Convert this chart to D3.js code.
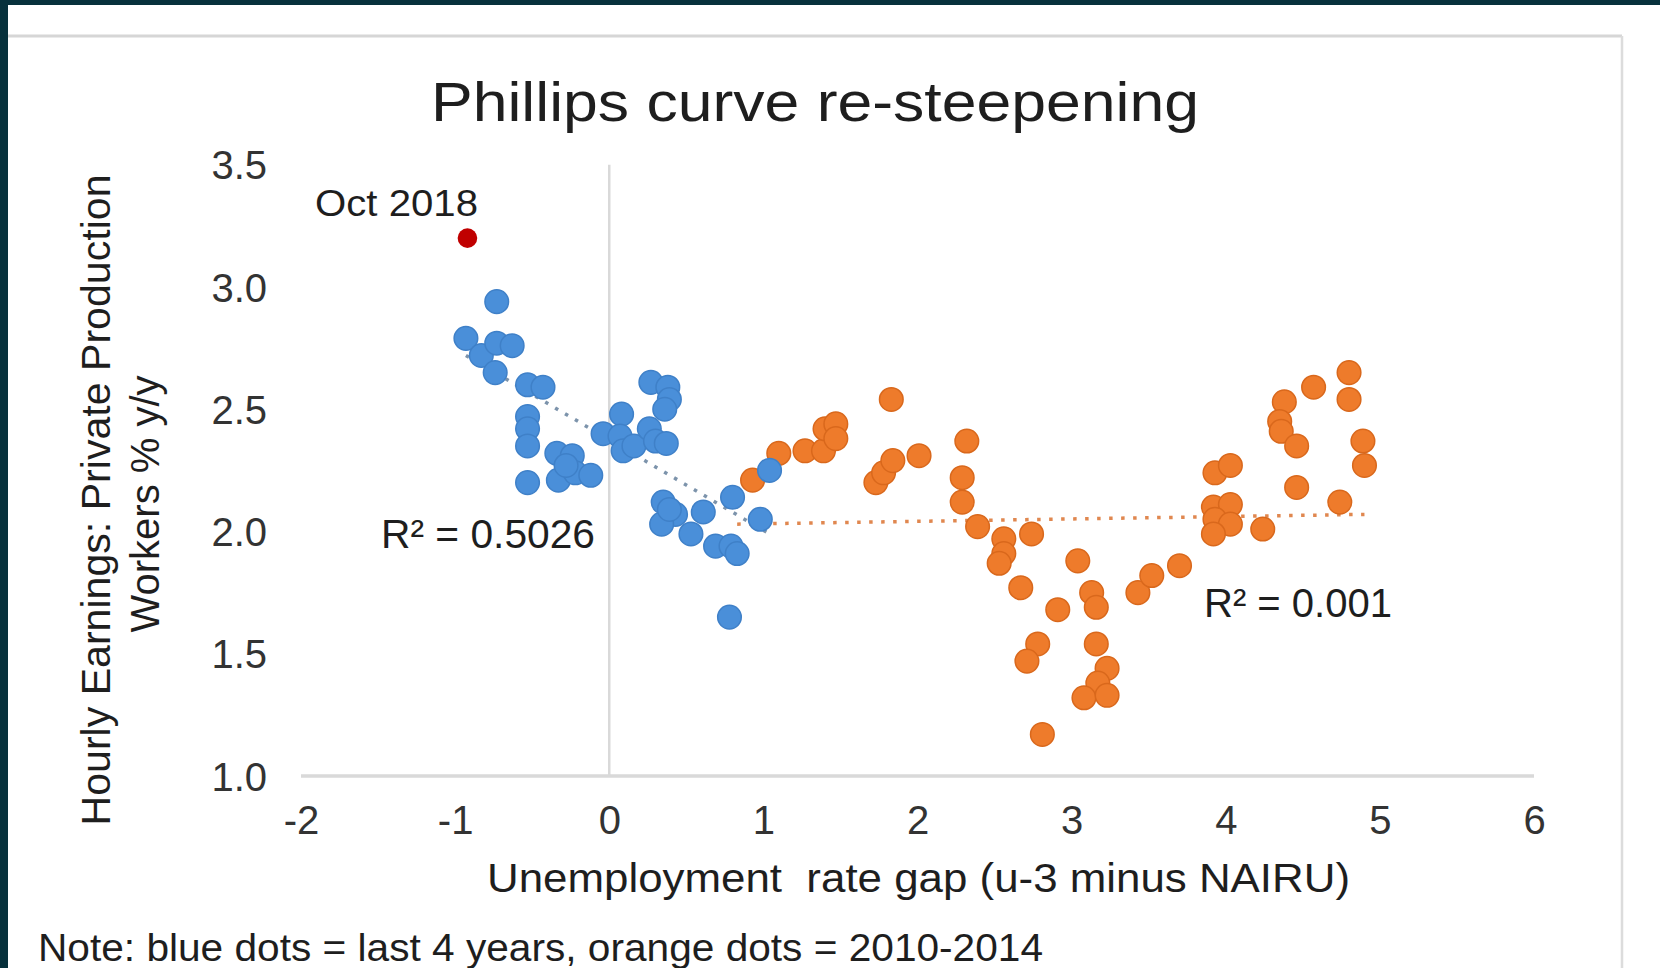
<!DOCTYPE html>
<html>
<head>
<meta charset="utf-8">
<script src="https://cdn.jsdelivr.net/npm/d3@7"></script>
<style>
  html, body { margin: 0; padding: 0; background: #ffffff; }
  svg { display: block; font-family: "Liberation Sans", Arial, sans-serif; }
  text { white-space: pre; }
</style>
</head>
<body>
<svg id="chart" width="1660" height="968"></svg>
<script>
// ---- data ----
const xTicks = [-2, -1, 0, 1, 2, 3, 4, 5, 6];
const yTicks = [1.0, 1.5, 2.0, 2.5, 3.0, 3.5];

// blue dots = last 4 years
const blueX = [-0.93, -0.83, -0.73, -0.73, -0.63, -0.74, -0.53, -0.43, -0.53, -0.53, -0.53, -0.53,
  -0.34, -0.24, -0.33, -0.22, -0.12, -0.28, -0.04, 0.08, 0.07, 0.09, 0.16, 0.26, 0.30, 0.37,
  0.27, 0.38, 0.39, 0.36, 0.35, 0.43, 0.34, 0.39, 0.61, 0.53, 0.69, 0.79, 0.83, 0.80, 0.98, 1.04, 0.78];
const blueY = [2.79, 2.72, 2.94, 2.77, 2.76, 2.65, 2.60, 2.59, 2.47, 2.42, 2.35, 2.20,
  2.32, 2.31, 2.21, 2.24, 2.23, 2.27, 2.40, 2.48, 2.39, 2.33, 2.35, 2.42, 2.37, 2.36,
  2.61, 2.59, 2.54, 2.50, 2.12, 2.07, 2.03, 2.09, 2.08, 1.99, 1.94, 1.94, 1.91, 2.14, 2.05, 2.25, 1.65];

// orange dots = 2010-2014
const orangeX = [0.93, 1.10, 1.27, 1.39, 1.40, 1.47, 1.47, 1.83, 1.73, 1.78, 1.84, 2.01,
  2.32, 2.29, 2.29, 2.39, 2.56, 2.56, 2.53, 2.74, 2.67, 2.91, 3.04, 3.13, 3.16, 2.78, 2.71,
  3.16, 3.23, 3.17, 3.08, 3.23, 2.81, 3.43, 3.52, 3.70, 3.93, 4.03, 3.92, 4.03, 3.93, 4.03,
  3.92, 4.24, 4.38, 4.35, 4.36, 4.46, 4.57, 4.80, 4.80, 4.89, 4.90, 4.46, 4.74];
const orangeY = [2.21, 2.32, 2.33, 2.33, 2.42, 2.44, 2.38, 2.54, 2.20, 2.24, 2.29, 2.31,
  2.37, 2.22, 2.12, 2.02, 1.97, 1.91, 1.87, 1.99, 1.77, 1.68, 1.88, 1.75, 1.69, 1.54, 1.47,
  1.54, 1.44, 1.38, 1.32, 1.33, 1.17, 1.75, 1.82, 1.86, 2.24, 2.27, 2.10, 2.11, 2.05, 2.03,
  1.99, 2.01, 2.53, 2.45, 2.41, 2.35, 2.59, 2.65, 2.54, 2.37, 2.27, 2.18, 2.12];

// latest point
const latestX = [-0.92];
const latestY = [3.20];
const latestLabel = "Oct 2018";

// linear trend lines (end points)
const blueTrendX = [-0.93, 1.04];
const blueTrendY = [2.72, 1.99];
const orangeTrendX = [0.83, 4.90];
const orangeTrendY = [2.03, 2.07];
const blueR2 = "R² = 0.5026";
const orangeR2 = "R² = 0.001";

const titleText = "Phillips curve re-steepening";
const xTitle = "Unemployment  rate gap (u-3 minus NAIRU)";
const yTitle1 = "Hourly Earnings: Private Production";
const yTitle2 = "Workers % y/y";
const noteText = "Note: blue dots = last 4 years, orange dots = 2010-2014";

// ---- drawing ----
const svg = d3.select("#chart");
const W = 1660, H = 968;

// frame
svg.append("rect").attr("x", 0).attr("y", 0).attr("width", W).attr("height", H).attr("fill", "#ffffff");
svg.append("rect").attr("x", 0).attr("y", 0).attr("width", W).attr("height", 5).attr("fill", "#07313c");
svg.append("rect").attr("x", 0).attr("y", 0).attr("width", 8).attr("height", H).attr("fill", "#07313c");
svg.append("line").attr("x1", 8).attr("x2", 1622).attr("y1", 36).attr("y2", 36)
  .attr("stroke", "#d6d6d6").attr("stroke-width", 3);
svg.append("line").attr("x1", 1622).attr("x2", 1622).attr("y1", 36).attr("y2", H)
  .attr("stroke", "#dcdcdc").attr("stroke-width", 2.5);

const x = d3.scaleLinear().domain([-2, 6]).range([301, 1534]);
const y = d3.scaleLinear().domain([1, 3.5]).range([776, 164.75]);

const fmtX = d => String(d);          // plain hyphen-minus as in the reference
const fmtY = d => d.toFixed(1);

// axes (labels only, no tick marks)
const xAxis = d3.axisBottom(x).tickValues(xTicks).tickSize(0).tickPadding(0).tickFormat(fmtX);
const gx = svg.append("g").attr("transform", `translate(0,${y(1)})`).call(xAxis);
gx.select(".domain").remove();
gx.selectAll("text").attr("font-size", 40).attr("fill", "#333333")
  .attr("font-family", "Liberation Sans, Arial, sans-serif").attr("dy", 0).attr("y", 58);

const yAxis = d3.axisLeft(y).tickValues(yTicks).tickSize(0).tickPadding(0).tickFormat(fmtY);
const gy = svg.append("g").attr("transform", `translate(267,0)`).call(yAxis);
gy.select(".domain").remove();
gy.selectAll("text").attr("font-size", 40).attr("fill", "#333333")
  .attr("font-family", "Liberation Sans, Arial, sans-serif").attr("x", 0).attr("dy", "0.35em");

// zero lines
svg.append("line").attr("x1", x(0)).attr("x2", x(0)).attr("y1", y(3.5)).attr("y2", y(1))
  .attr("stroke", "#d9d9d9").attr("stroke-width", 2.5);
svg.append("line").attr("x1", x(-2)).attr("x2", x(6)).attr("y1", y(1)).attr("y2", y(1))
  .attr("stroke", "#d9d9d9").attr("stroke-width", 3.5);

// trend lines
const line = d3.line().x(d => x(d[0])).y(d => y(d[1]));
svg.append("path").datum(orangeTrendX.map((v, i) => [v, orangeTrendY[i]])).attr("d", line)
  .attr("fill", "none").attr("stroke", "#e0874f").attr("stroke-width", 3.5).attr("stroke-dasharray", "3.5 8.5");
svg.append("path").datum(blueTrendX.map((v, i) => [v, blueTrendY[i]])).attr("d", line)
  .attr("fill", "none").attr("stroke", "#7c93ab").attr("stroke-width", 3.5).attr("stroke-dasharray", "3.5 8");

// dots
const orange = orangeX.map((v, i) => [v, orangeY[i]]);
const blue = blueX.map((v, i) => [v, blueY[i]]);
const latest = latestX.map((v, i) => [v, latestY[i]]);
svg.append("g").selectAll("circle").data(orange).join("circle")
  .attr("cx", d => x(d[0])).attr("cy", d => y(d[1])).attr("r", 11.8)
  .attr("fill", "#ee7b2b").attr("stroke", "#d9681c").attr("stroke-width", 1.5);
svg.append("g").selectAll("circle").data(blue).join("circle")
  .attr("cx", d => x(d[0])).attr("cy", d => y(d[1])).attr("r", 11.8)
  .attr("fill", "#4a8fd9").attr("stroke", "#3f80c8").attr("stroke-width", 1.5);
svg.append("g").selectAll("circle").data(latest).join("circle")
  .attr("cx", d => x(d[0])).attr("cy", d => y(d[1])).attr("r", 9.8)
  .attr("fill", "#c00000");

// texts
function txt(t, xx, yy, size, len, anchor) {
  const e = svg.append("text").attr("x", xx).attr("y", yy).attr("font-size", size)
    .attr("fill", "#1e1e1e").attr("text-anchor", anchor || "start").text(t);
  if (len) e.attr("textLength", len).attr("lengthAdjust", "spacingAndGlyphs");
  return e;
}
txt(titleText, 431, 121, 56, 768);
txt(latestLabel, 315, 216, 36, 163);
txt(blueR2, 381, 548, 40, 214);
txt(orangeR2, 1204, 617, 40, 188);
txt(xTitle, 487, 892, 40, 863);
txt(noteText, 38, 961, 38, 1005);

// y axis title (rotated)
svg.append("text").attr("transform", "translate(110,500) rotate(-90)").attr("text-anchor", "middle")
  .attr("font-size", 41).attr("fill", "#1e1e1e").text(yTitle1)
  .attr("textLength", 651).attr("lengthAdjust", "spacingAndGlyphs");
svg.append("text").attr("transform", "translate(159,504) rotate(-90)").attr("text-anchor", "middle")
  .attr("font-size", 41).attr("fill", "#1e1e1e").text(yTitle2)
  .attr("textLength", 257).attr("lengthAdjust", "spacingAndGlyphs");
</script>
</body>
</html>
